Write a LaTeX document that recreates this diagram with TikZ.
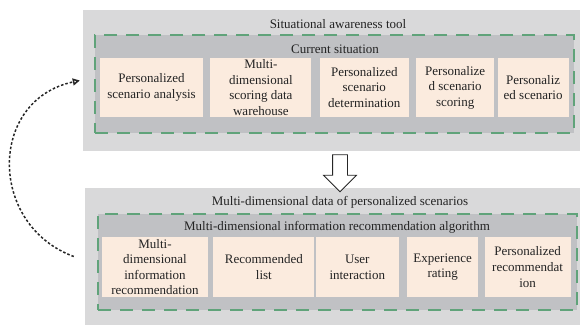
\documentclass[tikz,border=0pt]{standalone}
\usepackage{fontspec}
\setmainfont{Liberation Serif}
\usetikzlibrary{positioning,shapes.arrows,arrows.meta}

\definecolor{outergray}{RGB}{217,217,218}
\definecolor{innergray}{RGB}{192,193,196}
\definecolor{peach}{RGB}{251,235,222}
\definecolor{dashgreen}{RGB}{96,163,122}
\definecolor{textgray}{RGB}{35,35,35}

\tikzstyle{toolBox} = [rectangle, fill=outergray, inner sep=0pt]
\tikzstyle{dashBox} = [rectangle, fill=innergray, draw=dashgreen, line width=2.4pt, dash pattern=on 13pt off 9pt, inner sep=0pt]
\tikzstyle{itemNode} = [rectangle, fill=peach, inner sep=0pt, text centered, align=center, text=textgray]
\tikzstyle{titleNode} = [inner sep=0pt, text=textgray]
\tikzstyle{loopArrow} = [draw=black!85, line width=1.5pt, dash pattern=on 2.5pt off 2pt, -{Triangle[open,length=7pt,width=7pt]}]

\begin{document}
\begin{tikzpicture}[x=1pt, y=-1pt, font=\fontsize{13}{15.6}\selectfont]
    \useasboundingbox [fill=white] (0,0) rectangle (583,325);

    % containers
    \node (tool)[toolBox, minimum width=497pt, minimum height=141pt] at (331.5,80.5) {};
    \node (current)[dashBox, minimum width=479pt, minimum height=98pt] at (334.5,84) {};
    \node (scen)[toolBox, minimum width=495pt, minimum height=137pt] at (332.5,256.5) {};
    \node (algo)[dashBox, minimum width=479pt, minimum height=96pt] at (337.5,262) {};

    \node (toolT)[titleNode] at (338,24) {Situational awareness tool};
    \node (currentT)[titleNode] at (335,49) {Current situation};
    \node (scenT)[titleNode] at (340,202) {Multi-dimensional data of personalized scenarios};
    \node (algoT)[titleNode] at (337,227) {Multi-dimensional information recommendation algorithm};

    % current situation
    \node (t1)[itemNode, minimum width=103pt, minimum height=59pt] at (151.5,87.5) {Personalized\\scenario analysis};
    \node (t2)[itemNode, minimum width=101pt, minimum height=59pt, right=7pt of t1] {Multi-\\dimensional\\scoring data\\warehouse};
    \node (t3)[itemNode, minimum width=89pt, minimum height=59pt, right=8pt of t2] {Personalized\\scenario\\determination};
    \node (t4)[itemNode, minimum width=78pt, minimum height=59pt, right=7pt of t3] {Personalize\\d scenario\\scoring};
    \node (t5)[itemNode, minimum width=71pt, minimum height=59pt, right=3pt of t4] {Personaliz\\ed scenario};

    % recommendation algorithm
    \node (b1)[itemNode, minimum width=106pt, minimum height=60pt] at (155,267) {Multi-\\dimensional\\information\\recommendation};
    \node (b2)[itemNode, minimum width=101pt, minimum height=60pt, right=5pt of b1] {Recommended\\list};
    \node (b3)[itemNode, minimum width=83pt, minimum height=60pt, right=1pt of b2] {User\\interaction};
    \node (b4)[itemNode, minimum width=71pt, minimum height=60pt, right=8pt of b3] {Experience\\rating};
    \node (b5)[itemNode, minimum width=86pt, minimum height=60pt, right=6pt of b4] {Personalized\\recommendat\\ion};

    % arrows
    \node (down)[single arrow, shape border rotate=270, draw=black!85, fill=white, line width=0.8pt, inner sep=7pt, single arrow head extend=9pt, minimum height=37pt] at (340,169.5) {};
    \draw [loopArrow] ([xshift=-11pt]scen.west) .. controls (-12,225) and (-12,100) .. ([xshift=-3pt]tool.west);

\end{tikzpicture}
\end{document}
